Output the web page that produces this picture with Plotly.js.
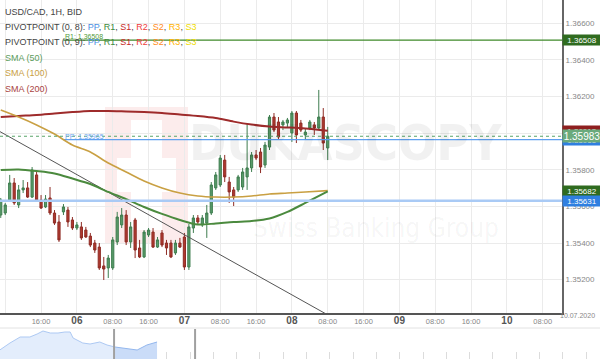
<!DOCTYPE html>
<html><head><meta charset="utf-8">
<script src="https://cdn.plot.ly/plotly-3.0.1.min.js"></script>
<style>html,body{margin:0;padding:0;background:#fff}#chart{width:600px;height:359px}</style>
</head><body><div id="chart"></div>
<script>
// ---- candle data (USD/CAD 1H, first candle 2020-07-05 07:00, hourly) ----
const firstCandle = Date.UTC(2020, 6, 5, 7);
const openP = [1.35553,1.35564,1.35635,1.35728,1.35608,1.35690,1.35701,1.35651,1.35772,1.35635,1.35597,1.35646,1.35564,1.35515,1.35570,1.35580,1.35526,
 1.35482,1.35488,1.35471,1.35438,1.35400,1.35378,1.35275,1.35264,1.35264,1.35406,1.35499,1.35553,1.35406,1.35526,1.35373,1.35324,1.35444,1.35460,1.35378,1.35455,1.35400,1.35400,1.35346,1.35400,
 1.35433,1.35269,1.35482,1.35537,1.35499,1.35509,1.35564,1.35701,1.35717,1.35853,1.35733,1.35690,1.35690,1.35706,1.35761,1.35810,1.35881,1.35897,1.35826,1.35924,1.36088,1.36061,1.36045,1.36055,
 1.36001,1.36110,1.36055,1.35990,1.36028,1.36045,1.36028,1.36088,1.35919];
const highP = [1.35646,1.35619,1.35772,1.35755,1.35717,1.35744,1.35733,1.35815,1.35788,1.35662,1.35662,1.35706,1.35580,1.35553,1.35613,1.35597,1.35542,
 1.35515,1.35515,1.35488,1.35455,1.35417,1.35400,1.35324,1.35335,1.35433,1.35570,1.35591,1.35580,1.35515,1.35537,1.35417,1.35471,1.35482,1.35482,1.35433,1.35471,1.35417,1.35417,1.35417,1.35428,
 1.35455,1.35504,1.35553,1.35553,1.35553,1.35608,1.35733,1.35788,1.35881,1.35881,1.35761,1.35706,1.35772,1.35810,1.36055,1.35897,1.35908,1.35919,1.35952,1.36099,1.36110,1.36088,1.36072,1.36083,
 1.36121,1.36121,1.36072,1.36028,1.36072,1.36061,1.36236,1.36137,1.36034];
const lowP = [1.35537,1.35553,1.35624,1.35608,1.35591,1.35673,1.35646,1.35646,1.35624,1.35586,1.35591,1.35553,1.35499,1.35406,1.35553,1.35488,1.35471,
 1.35471,1.35417,1.35428,1.35378,1.35346,1.35253,1.35198,1.35209,1.35253,1.35389,1.35482,1.35389,1.35373,1.35318,1.35318,1.35318,1.35433,1.35373,1.35373,1.35378,1.35335,1.35318,1.35335,1.35373,
 1.35253,1.35253,1.35455,1.35499,1.35488,1.35428,1.35553,1.35690,1.35706,1.35733,1.35619,1.35602,1.35679,1.35690,1.35690,1.35788,1.35853,1.35782,1.35810,1.35908,1.36006,1.35963,1.36017,1.36034,
 1.35952,1.35946,1.36006,1.35963,1.36017,1.35990,1.36017,1.35908,1.35853];
const closeP = [1.35635,1.35608,1.35728,1.35619,1.35690,1.35701,1.35651,1.35799,1.35635,1.35591,1.35640,1.35564,1.35509,1.35417,1.35597,1.35515,1.35482,
 1.35499,1.35428,1.35433,1.35389,1.35362,1.35264,1.35258,1.35318,1.35417,1.35542,1.35553,1.35406,1.35488,1.35362,1.35324,1.35460,1.35471,1.35378,1.35417,1.35389,1.35373,1.35324,1.35400,1.35378,
 1.35269,1.35488,1.35537,1.35515,1.35537,1.35564,1.35717,1.35772,1.35864,1.35761,1.35679,1.35651,1.35761,1.35788,1.35810,1.35881,1.35864,1.35815,1.35935,1.36088,1.36017,1.35979,1.36061,1.36072,
 1.36110,1.35990,1.36017,1.36006,1.36061,1.36028,1.36088,1.35946,1.35983];

// ---- moving averages ----
const smaTimes = ['2020-07-05 07:00','2020-07-05 11:00','2020-07-05 15:00','2020-07-05 19:00','2020-07-05 23:00','2020-07-06 03:00','2020-07-06 07:00','2020-07-06 11:00','2020-07-06 15:00','2020-07-06 19:00','2020-07-06 23:00','2020-07-07 03:00','2020-07-07 07:00','2020-07-07 11:00','2020-07-07 15:00','2020-07-07 19:00','2020-07-07 23:00','2020-07-08 03:00','2020-07-08 08:00'];
const sma50  = [1.35799,1.35802,1.35793,1.35780,1.35752,1.35722,1.35679,1.35640,1.35597,1.35559,1.35526,1.35501,1.35507,1.35515,1.35520,1.35534,1.35570,1.35619,1.35682];
const sma100 = [1.36126,1.36088,1.36045,1.35995,1.35935,1.35897,1.35837,1.35788,1.35739,1.35701,1.35673,1.35657,1.35651,1.35651,1.35657,1.35668,1.35673,1.35679,1.35686];
const sma200 = [1.36088,1.36094,1.36099,1.36107,1.36115,1.36121,1.36121,1.36118,1.36115,1.36110,1.36102,1.36094,1.36083,1.36063,1.36047,1.36036,1.36031,1.36025,1.36013];

// ---- trend line, levels ----
const trendTimes = ['2020-07-05 04:00','2020-07-08 12:00'];
const trendValues = [1.36047, 1.34953];
const pivotStart = '2020-07-05 21:00';
const ppLevel = 1.35965, r1Level = 1.36508;
const supportLevel = 1.35631;
const lastPrice = 1.35983;
const sma50Last = 1.35682, sma200Last = 1.36013;

// ---- axes ----
const xRange = ['2020-07-05 06:50','2020-07-10 12:18'];
const yRange = [1.35018, 1.36727];
const yTickVals = [1.352, 1.354, 1.356, 1.358, 1.360, 1.362, 1.364, 1.366];
const yTickHidden = [1.360]; // covered by the price boxes in the original
const xTickVals = ['2020-07-05 08:00','2020-07-05 16:00','2020-07-06 00:00','2020-07-06 08:00','2020-07-06 16:00','2020-07-07 00:00','2020-07-07 08:00','2020-07-07 16:00','2020-07-08 00:00','2020-07-08 08:00','2020-07-08 16:00','2020-07-09 00:00','2020-07-09 08:00','2020-07-09 16:00','2020-07-10 00:00','2020-07-10 08:00'];
const xTickLabels = ['08:00','16:00','06','08:00','16:00','07','08:00','16:00','08','08:00','16:00','09','08:00','16:00','10','08:00'];
const dayLabels = ['06','07','08','09','10'];
const endDateLabel = '10.07.2020';

// ---- navigator ----
const navTimes = ['2020-07-01 14:00','2020-07-02 00:30','2020-07-02 11:00','2020-07-02 21:00','2020-07-03 04:30','2020-07-03 10:30','2020-07-03 18:00','2020-07-04 02:00','2020-07-04 09:00','2020-07-04 14:30','2020-07-04 17:30','2020-07-05 03:30','2020-07-05 11:00','2020-07-05 21:00','2020-07-06 04:30','2020-07-06 12:45','2020-07-07 01:00','2020-07-07 11:30','2020-07-07 21:30','2020-07-08 08:00'];
const navValues = [1.35200,1.35494,1.35746,1.35746,1.35872,1.35998,1.35914,1.35914,1.35956,1.35956,1.35704,1.35494,1.35452,1.35536,1.35410,1.35326,1.35242,1.35200,1.35410,1.35536];
const navSelStart = 15;
const navRange = ['2020-07-01 14:14','2020-07-27 08:15'];
const navHandles = ['2020-07-06 11:43','2020-07-09 23:10'];

const times = openP.map((_, i) => new Date(firstCandle + i * 3600000).toISOString().slice(0,16).replace('T',' '));
const fmt = v => v.toFixed(5);

const XD = 562/600;               // main plot right edge (paper)
const YD0 = 1 - 313/359;          // main plot bottom (paper)
const NAVTOP = 30/359;
const py = p => 1 - p/359;        // pixel row -> paper y (decorations only)
const px = p => p/600;

const traces = [
  {type:'candlestick', x: times, open: openP, high: highP, low: lowP, close: closeP,
   increasing:{line:{color:'#3e7d4f', width:1}, fillcolor:'#599b69'},
   decreasing:{line:{color:'#8e2c25', width:1}, fillcolor:'#b0392f'},
   whiskerwidth:0, hoverinfo:'none', xaxis:'x', yaxis:'y'},
  {type:'scatter', mode:'lines', x: trendTimes, y: trendValues, line:{color:'#555', width:1}, hoverinfo:'none'},
  {type:'scatter', mode:'lines', x:[pivotStart, xRange[1]], y:[r1Level, r1Level], line:{color:'#3f8a2a', width:1.2}, hoverinfo:'none'},
  {type:'scatter', mode:'lines', x:[pivotStart, xRange[1]], y:[ppLevel, ppLevel], line:{color:'#5d9ff0', width:1.2}, hoverinfo:'none'},
  {type:'scatter', mode:'lines', x: smaTimes, y: sma200, line:{color:'#9e2b2b', width:2, shape:'spline', smoothing:0.8}, hoverinfo:'none'},
  {type:'scatter', mode:'lines', x: smaTimes, y: sma100, line:{color:'#c9a043', width:1.6, shape:'spline', smoothing:0.8}, hoverinfo:'none'},
  {type:'scatter', mode:'lines', x: smaTimes, y: sma50, line:{color:'#4b8a3e', width:2, shape:'spline', smoothing:0.8}, hoverinfo:'none'},
  {type:'scatter', mode:'lines', x: navTimes.slice(0, navSelStart+1), y: navValues.slice(0, navSelStart+1), fill:'tozeroy',
   fillcolor:'#e3edfc', line:{color:'#adc9f3', width:1}, xaxis:'x2', yaxis:'y2', hoverinfo:'none'},
  {type:'scatter', mode:'lines', x: navTimes.slice(navSelStart), y: navValues.slice(navSelStart), fill:'tozeroy',
   fillcolor:'#cadcf8', line:{color:'#93b7ee', width:1}, xaxis:'x2', yaxis:'y2', hoverinfo:'none'}
];

const lg = (t, c) => `<span style="color:${c}">${t}</span>`;
const pivLine = n => `PIVOTPOINT (0, ${n}): ` + lg('PP','#4a90e2') + ', ' + lg('R1','#3d8b3d') + ', ' + lg('S1','#c62828') + ', ' +
  lg('R2','#f03c3c') + ', ' + lg('S2','#ff8c1a') + ', ' + lg('R3','#ffb300') + ', ' + lg('S3','#f0dc00');
const legendLines = [
  ['USD/CAD, 1H, BID', '#444', 12],
  [pivLine(8), '#444', 27.3],
  [pivLine(9), '#444', 42.3],
  ['SMA (50)', '#5c9c5c', 58.3],
  ['SMA (100)', '#c9a043', 73.3],
  ['SMA (200)', '#a94442', 88.7]
];

const annotations = [
  {xref:'paper', yref:'paper', x:px(346), y:py(143), text:'<b>DUKASCOPY</b>', showarrow:false,
   font:{family:'DejaVu Sans Condensed, Liberation Sans Narrow, Liberation Sans', size:50, color:'rgba(0,0,0,0.055)'}},
  {xref:'paper', yref:'paper', x:px(376), y:py(228), text:'Swiss Banking Group', showarrow:false,
   font:{family:'DejaVu Sans Condensed, Liberation Sans Narrow, Liberation Sans', size:26, color:'rgba(0,0,0,0.05)'}},
  ...legendLines.map(([t,c,y]) => ({xref:'paper', yref:'paper', x:px(3), y:py(y), xanchor:'left', yanchor:'middle',
    text:t, showarrow:false, font:{family:'Liberation Sans, Arial, sans-serif', size:9, color:c}})),
  {xref:'x', yref:'y', x:pivotStart, y:r1Level, xanchor:'left', yanchor:'bottom', text:'R1: ' + fmt(r1Level), showarrow:false,
   font:{family:'Liberation Sans, Arial', size:7, color:'#4f9a3a'}, yshift:-2},
  {xref:'x', yref:'y', x:pivotStart, y:ppLevel, xanchor:'left', yanchor:'bottom', text:'PP: ' + fmt(ppLevel), showarrow:false,
   font:{family:'Liberation Sans, Arial', size:7, color:'#6fa8f0'}, yshift:-2},
  {xref:'paper', yref:'paper', x:px(597), y:py(321), xanchor:'right', text:endDateLabel, showarrow:false,
   font:{family:'Liberation Sans, Arial', size:7, color:'#888'}},
];
const boxes = [
  [r1Level, '#2f6b1f', 8, 9],
  [sma200Last, '#8e1f1f', 8, 9],
  [ppLevel, '#2f7fe0', 8, 9],
  [lastPrice, '#6aaa7c', 10, 11],
  [sma50Last, '#2f6b1f', 8, 9],
  [supportLevel, '#2f7fe0', 8, 9]
];
boxes.forEach(([v, bg, fs, h]) => annotations.push({xref:'paper', yref:'y', x:XD, y:v, xanchor:'left', yanchor:'middle',
  text:fmt(v), showarrow:false, bgcolor:bg, width:37, height:h, borderpad:0.5, align:'center',
  font:{family:'Liberation Sans, Arial', size:fs, color:'#fff'}}));

const shapes = [
  // watermark logo
  {type:'rect', xref:'paper', yref:'paper', x0:px(105), x1:px(188), y0:py(243), y1:py(107), fillcolor:'#fcecec', line:{width:0}, layer:'below'},
  {type:'rect', xref:'paper', yref:'paper', x0:px(131), x1:px(162), y0:py(230), y1:py(120), fillcolor:'#ffffff', line:{width:0}, layer:'below'},
  {type:'rect', xref:'paper', yref:'paper', x0:px(117), x1:px(176), y0:py(192), y1:py(158), fillcolor:'#ffffff', line:{width:0}, layer:'below'},
  // full-width levels
  {type:'line', xref:'x domain', yref:'y', x0:0, x1:1, y0:supportLevel, y1:supportLevel, line:{color:'#a9caf5', width:2.5}},
  {type:'line', xref:'x domain', yref:'y', x0:0, x1:1, y0:lastPrice, y1:lastPrice, line:{color:'#5aa56a', width:1, dash:'dot'}},
  // navigator
  {type:'line', xref:'paper', yref:'paper', x0:0, x1:1, y0:py(328), y1:py(328), line:{color:'#e2e2e2', width:1}},
  ...navHandles.map(t => ({type:'line', xref:'x2', yref:'y2 domain', x0:t, x1:t, y0:0, y1:1, line:{color:'#a0a0a0', width:2}}))
];

const layout = {
  width:600, height:359, margin:{l:0, r:0, t:0, b:0},
  paper_bgcolor:'#fff', plot_bgcolor:'#fff', showlegend:false, hovermode:false,
  font:{family:'Liberation Sans, Arial, sans-serif'},
  xaxis:{type:'date', domain:[0, XD], anchor:'y', range:xRange, rangeslider:{visible:false},
    tickvals:xTickVals,
    ticktext:xTickLabels.map(t => dayLabels.includes(t) ? `<span style="font-size:10px;color:#555"><b>${t}</b></span>` : t),
    tickfont:{size:7.5, color:'#888'}, ticks:'', showgrid:true, gridcolor:'#ebebeb', gridwidth:1,
    showline:true, linecolor:'#555', linewidth:2, zeroline:false, fixedrange:true},
  yaxis:{domain:[YD0, 1], anchor:'x', side:'right', range:yRange, tickvals:yTickVals,
    ticktext:yTickVals.map(v => yTickHidden.includes(v) ? '' : fmt(v)),
    tickfont:{size:8, color:'#888'}, ticks:'', showgrid:true, gridcolor:'#ebebeb', gridwidth:1,
    showline:true, linecolor:'#666', linewidth:2, zeroline:false, fixedrange:true},
  xaxis2:{type:'date', domain:[0,1], anchor:'y2', range:navRange, showticklabels:false, showgrid:false, zeroline:false,
    ticks:'inside', ticklen:7, tickcolor:'#dcdcdc', tickwidth:1, dtick:86400000, tick0:'2020-07-07 18:00', showline:false, layer:'below traces'},
  yaxis2:{domain:[0, NAVTOP], anchor:'x2', range:[1.34822, 1.36082], visible:false, showgrid:false, zeroline:false},
  shapes, annotations
};

Plotly.newPlot('chart', traces, layout, {staticPlot:true, displayModeBar:false});
</script></body></html>
